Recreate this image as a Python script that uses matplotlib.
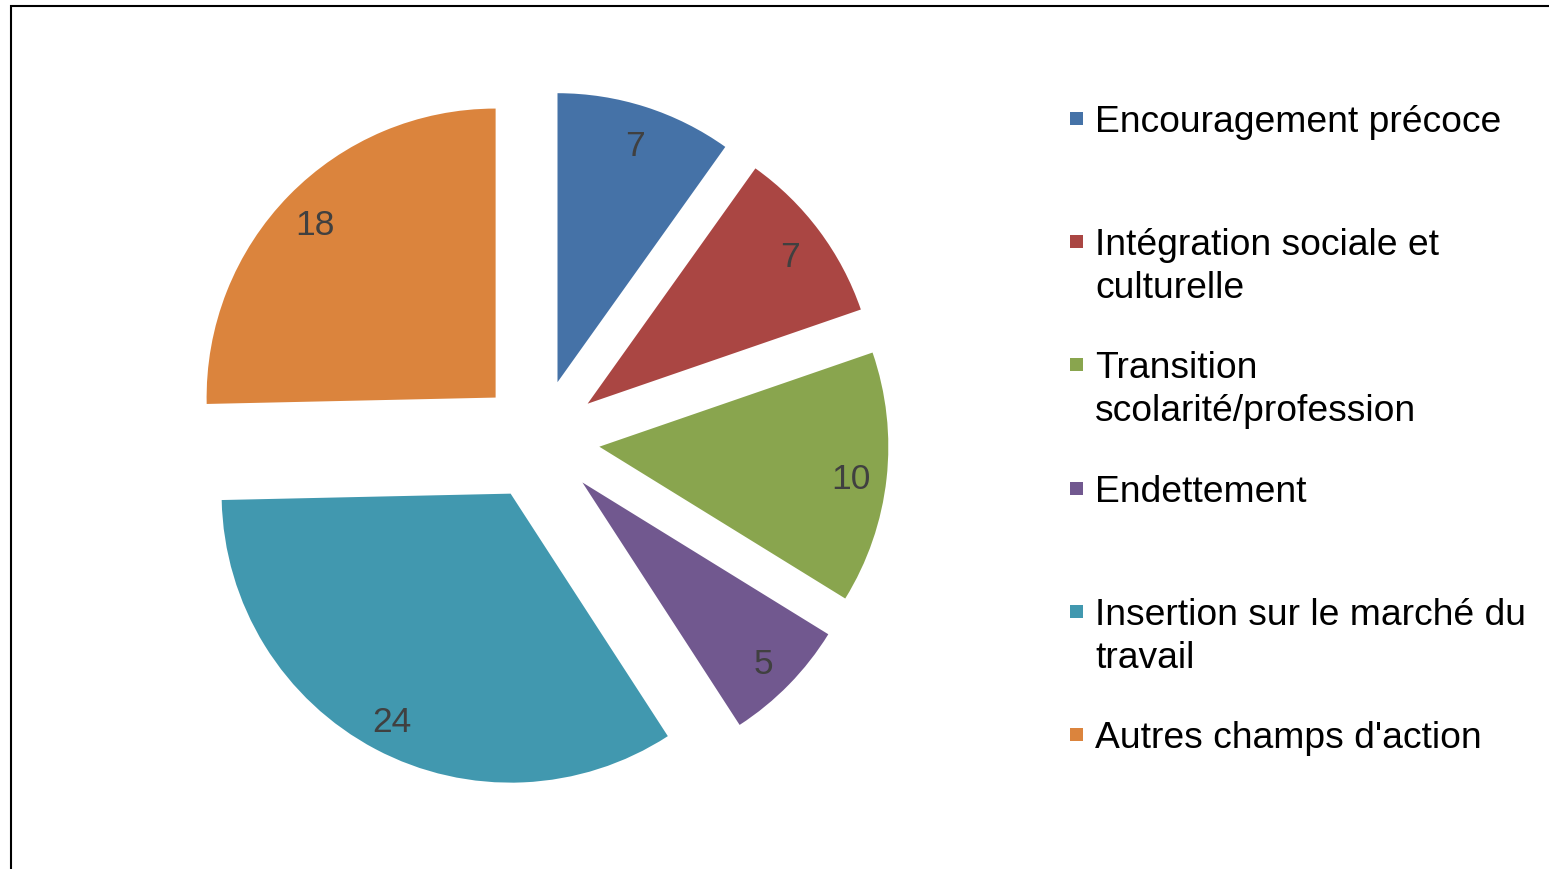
import matplotlib
matplotlib.use('Agg')
import matplotlib.pyplot as plt
from matplotlib.patches import Rectangle

# Données du graphique
categories = [
    "Encouragement précoce",
    "Intégration sociale et\nculturelle",
    "Transition\nscolarité/profession",
    "Endettement",
    "Insertion sur le marché du\ntravail",
    "Autres champs d'action",
]
valeurs = [7, 7, 10, 5, 24, 18]
couleurs = ['#4572A7', '#AA4643', '#89A54E', '#71588F', '#4198AF', '#DB843D']

W, H = 1549, 870
plt.rcParams['font.family'] = ['Liberation Sans', 'DejaVu Sans']

fig = plt.figure(figsize=(W / 100, H / 100), dpi=100)

# axes en coordonnées "rayon = 1", centre du camembert en (539, 441) px
R = 289.0
cx, cy = 539.0, 441.0
ax = fig.add_axes([0, 0, 1, 1])
total = sum(valeurs)
wedges, texts, autotexts = ax.pie(
    valeurs, colors=couleurs, startangle=90, counterclock=False,
    explode=[0.21] * len(valeurs), radius=1.0,
    autopct=lambda p: f"{p * total / 100:.0f}", pctdistance=0.875,
    textprops={'fontsize': 25.5, 'color': '#404040'},
)
# léger décalage vers le bas des étiquettes
for t in autotexts:
    x, y = t.get_position()
    t.set_position((x, y - 4 / R))
ax.set_xlim(-cx / R, (W - cx) / R)
ax.set_ylim(-(H - cy) / R, cy / R)
ax.set_aspect('equal')
ax.axis('off')

# légende dessinée à la main (carré + texte, première ligne alignée)
x_carre, x_texte = 1070, 1095
base0, pas, interligne = 132, 123.2, 43
for i, (lab, col) in enumerate(zip(categories, couleurs)):
    base = base0 + i * pas
    fig.add_artist(Rectangle((x_carre / W, 1 - (base - 6) / H), 13 / W, 13 / H,
                             transform=fig.transFigure, facecolor=col,
                             edgecolor='none'))
    for k, ligne in enumerate(lab.split("\n")):
        fig.text(x_texte / W, 1 - (base + k * interligne) / H, ligne,
                 fontsize=26.8, color='black', ha='left', va='baseline')

# cadre
fig.add_artist(Rectangle((10.5 / W, -0.05), 1.1, 1.05 - 6.5 / H,
                         transform=fig.transFigure, fill=False,
                         edgecolor='black', linewidth=1.5))

plt.savefig('out.png', dpi=100)
